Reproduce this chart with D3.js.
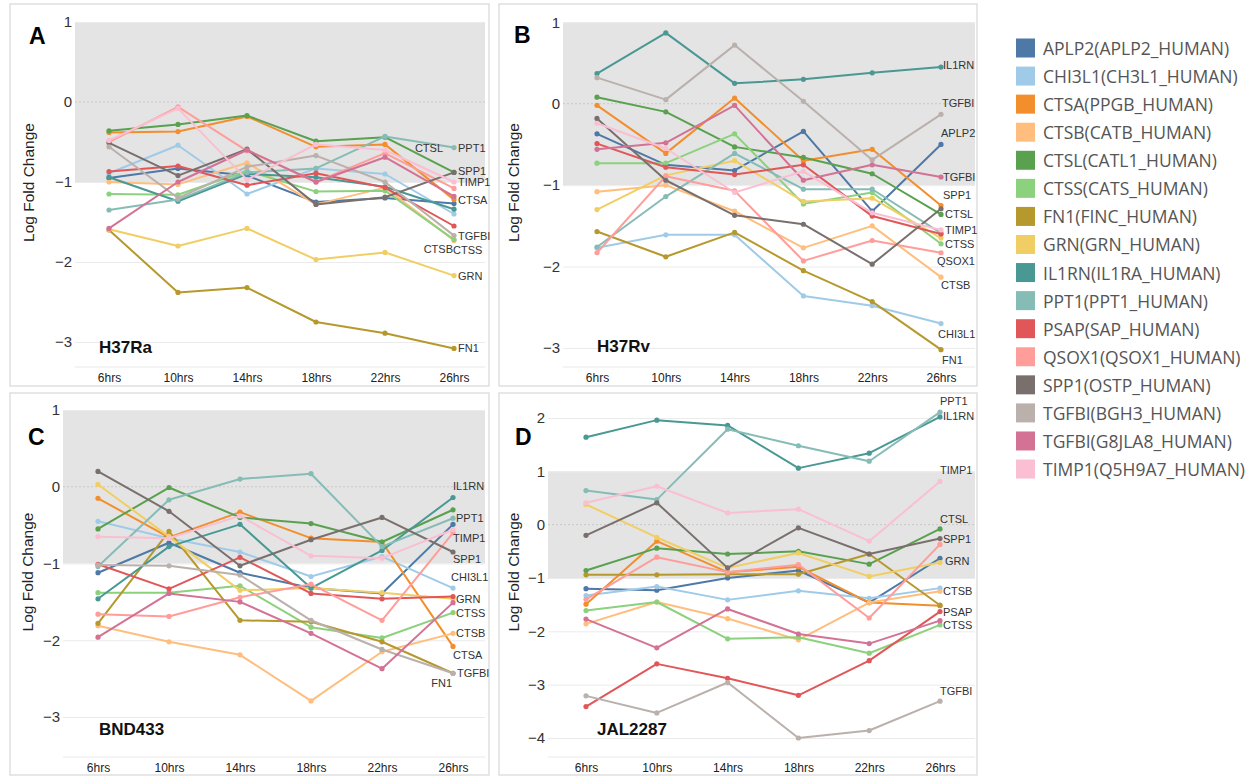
<!DOCTYPE html>
<html>
<head>
<meta charset="utf-8">
<script src="https://cdn.jsdelivr.net/npm/d3@7"></script>
<style>
  body { margin: 0; background: #fff; }
  text { font-family: "Liberation Sans", Arial, sans-serif; }
</style>
</head>
<body>
<svg id="chart" width="1253" height="776"></svg>
<script>
// ---- data ----
const hours = ["6hrs", "10hrs", "14hrs", "18hrs", "22hrs", "26hrs"];
const strains = ["H37Ra", "H37Rv", "BND433", "JAL2287"];
const panelLetters = ["A", "B", "C", "D"];
const proteins = ["APLP2(APLP2_HUMAN)", "CHI3L1(CH3L1_HUMAN)", "CTSA(PPGB_HUMAN)", "CTSB(CATB_HUMAN)",
  "CTSL(CATL1_HUMAN)", "CTSS(CATS_HUMAN)", "FN1(FINC_HUMAN)", "GRN(GRN_HUMAN)", "IL1RN(IL1RA_HUMAN)",
  "PPT1(PPT1_HUMAN)", "PSAP(SAP_HUMAN)", "QSOX1(QSOX1_HUMAN)", "SPP1(OSTP_HUMAN)", "TGFBI(BGH3_HUMAN)",
  "TGFBI(G8JLA8_HUMAN)", "TIMP1(Q5H9A7_HUMAN)"];
const geneNames = ["APLP2", "CHI3L1", "CTSA", "CTSB", "CTSL", "CTSS", "FN1", "GRN", "IL1RN",
  "PPT1", "PSAP", "QSOX1", "SPP1", "TGFBI", "TGFBI", "TIMP1"];

// log fold change, rows in legend order, columns = hours
const valuesH37Ra = [
  [-0.95, -0.83, -0.92, -1.25, -1.20, -1.27],
  [-0.89, -0.54, -1.15, -0.83, -0.90, -1.40],
  [-0.38, -0.37, -0.18, -0.56, -0.53, -1.22],
  [-1.00, -1.03, -0.76, -1.28, -1.07, -1.73],
  [-0.36, -0.28, -0.17, -0.49, -0.44, -0.88],
  [-1.15, -1.16, -0.86, -1.12, -1.11, -1.72],
  [-1.60, -2.38, -2.32, -2.75, -2.89, -3.08],
  [-1.59, -1.80, -1.58, -1.97, -1.88, -2.17],
  [-0.94, -1.24, -0.90, -0.94, -1.06, -1.34],
  [-1.35, -1.22, -0.88, -0.83, -0.43, -0.57],
  [-0.87, -0.80, -1.04, -0.89, -1.07, -1.55],
  [-0.50, -0.06, -0.61, -1.00, -0.64, -1.08],
  [-0.51, -0.92, -0.59, -1.28, -1.19, -0.88],
  [-0.56, -1.20, -0.81, -0.67, -1.00, -1.67],
  [-1.58, -1.00, -0.60, -1.00, -0.69, -1.18],
  [-0.48, -0.08, -0.97, -0.53, -0.60, -1.00]
];
const valuesH37Rv = [
  [-0.37, -0.75, -0.82, -0.34, -1.32, -0.50],
  [-1.77, -1.61, -1.61, -2.36, -2.48, -2.70],
  [-0.02, -0.61, 0.07, -0.70, -0.56, -1.25],
  [-1.08, -1.00, -1.32, -1.77, -1.50, -2.13],
  [0.08, -0.10, -0.53, -0.66, -0.86, -1.36],
  [-0.73, -0.73, -0.37, -1.23, -1.09, -1.72],
  [-1.57, -1.88, -1.58, -2.05, -2.43, -3.02],
  [-1.30, -0.88, -0.70, -1.20, -1.16, -1.65],
  [0.37, 0.87, 0.25, 0.30, 0.38, 0.45],
  [-1.76, -1.14, -0.61, -1.05, -1.05, -1.59],
  [-0.49, -0.78, -0.87, -0.75, -1.38, -1.60],
  [-1.83, -0.89, -1.07, -1.93, -1.68, -1.83],
  [-0.18, -0.94, -1.37, -1.48, -1.97, -1.29],
  [0.32, 0.05, 0.72, 0.03, -0.69, -0.13],
  [-0.56, -0.48, -0.02, -0.94, -0.75, -0.90],
  [-0.24, -0.55, -1.09, -0.83, -1.34, -1.55]
];
const valuesBND433 = [
  [-1.12, -0.73, -1.12, -1.32, -1.39, -0.49],
  [-0.45, -0.67, -0.85, -1.17, -0.91, -1.32],
  [-0.15, -0.66, -0.33, -0.67, -0.72, -2.08],
  [-1.81, -2.02, -2.19, -2.79, -2.15, -1.91],
  [-0.55, -0.01, -0.40, -0.48, -0.72, -0.30],
  [-1.38, -1.38, -1.29, -1.83, -1.97, -1.64],
  [-1.78, -0.58, -1.74, -1.76, -2.02, -2.43],
  [0.03, -0.65, -1.35, -1.32, -1.38, -1.46],
  [-1.46, -0.78, -0.49, -1.32, -0.83, -0.14],
  [-1.04, -0.17, 0.10, 0.17, -0.78, -0.41],
  [-1.01, -1.33, -0.92, -1.39, -1.46, -1.43],
  [-1.66, -1.69, -1.44, -1.27, -1.74, -0.60],
  [0.20, -0.32, -1.03, -0.69, -0.40, -0.85],
  [-1.02, -1.03, -1.15, -1.74, -2.12, -2.43],
  [-1.96, -1.39, -1.50, -1.91, -2.37, -1.51],
  [-0.65, -0.67, -0.38, -0.90, -0.93, -0.56]
];
const valuesJAL2287 = [
  [-1.20, -1.23, -1.00, -0.86, -1.46, -0.63],
  [-1.33, -1.16, -1.41, -1.24, -1.38, -1.19],
  [-1.49, -0.31, -0.89, -0.79, -1.46, -1.52],
  [-1.86, -1.45, -1.76, -2.16, -1.46, -1.25],
  [-0.86, -0.44, -0.55, -0.50, -0.74, -0.08],
  [-1.61, -1.45, -2.14, -2.11, -2.41, -1.88],
  [-0.94, -0.94, -0.93, -0.93, -0.55, -1.51],
  [0.38, -0.24, -0.81, -0.53, -0.97, -0.71],
  [1.64, 1.96, 1.86, 1.06, 1.34, 2.02],
  [0.64, 0.47, 1.79, 1.48, 1.19, 2.11],
  [-3.41, -2.61, -2.88, -3.20, -2.55, -1.63],
  [-1.40, -0.61, -0.89, -0.75, -1.75, -0.37],
  [-0.20, 0.41, -0.81, -0.06, -0.55, -0.26],
  [-3.21, -3.53, -2.96, -4.00, -3.86, -3.31],
  [-1.77, -2.31, -1.58, -2.05, -2.23, -1.80],
  [0.41, 0.72, 0.22, 0.29, -0.31, 0.81]
];
const panelValues = [valuesH37Ra, valuesH37Rv, valuesBND433, valuesJAL2287];
const panelTicks = [[-3, -2, -1, 0, 1], [-3, -2, -1, 0, 1], [-3, -2, -1, 0, 1], [-4, -3, -2, -1, 0, 1, 2]];
// which series get an end label in each panel
const labelledA = [9, 4, 12, 15, 2, 13, 5, 3, 7, 6];
const labelledB = [8, 13, 0, 14, 12, 4, 15, 5, 11, 3, 1, 6];
const labelledC = [8, 9, 15, 12, 1, 7, 5, 3, 2, 13, 6];
const labelledD = [9, 8, 15, 4, 12, 7, 3, 10, 5, 13];
const panelLabelled = [labelledA, labelledB, labelledC, labelledD];

// ---- style / layout ----
const palette = ["#4e79a7", "#a0cbe8", "#f28e2b", "#ffbe7d", "#59a14f", "#8cd17d", "#b6992d", "#f1ce63",
  "#499894", "#86bcb6", "#e15759", "#ff9d9a", "#79706e", "#bab0ac", "#d37295", "#fabfd2"];

// box, plot area, y calibration (two values and their pixels)
const panels = [
  { box: [10, 4, 489, 386], plotL: 75, plotR: 485, x0: 109, x1: 454, bottom: 367,
    yA: 1, pA: 22, yB: -3, pB: 342, letter: [29, 44], strain: [99, 353], title: 28 },
  { box: [499, 4, 977, 386], plotL: 563, plotR: 975, x0: 597, x1: 941, bottom: 367,
    yA: 1, pA: 22.3, yB: -3, pB: 348, letter: [514, 43], strain: [597, 352], title: 513 },
  { box: [10, 393, 489, 775], plotL: 63, plotR: 485, x0: 98, x1: 453, bottom: 757,
    yA: 1, pA: 410, yB: -3, pB: 717, letter: [28, 445], strain: [99, 735], title: 27 },
  { box: [499, 393, 977, 775], plotL: 548, plotR: 975, x0: 586, x1: 940, bottom: 757,
    yA: 2, pA: 418, yB: -4, pB: 738, letter: [515, 445], strain: [597, 735], title: 513 }
];
// label nudges [dx, dy, anchor] keyed by series index
const nudges = [
  { 9: [4, 0], 4: [-11, -24, "end"], 12: [4, -1], 15: [4, 0], 2: [4, 0], 13: [4, 0], 5: [-1, 10], 3: [-1, 9, "end"], 7: [4, 0], 6: [4, 0] },
  { 8: [2, -2], 13: [1, -11], 0: [0, -11], 14: [2, 0], 12: [2, -14], 4: [4, 0], 15: [4, 0], 5: [4, 0], 11: [-4, 8], 3: [0, 8], 1: [-3, 10], 6: [1, 10] },
  { 8: [0, -11], 9: [3, 0], 15: [0, 8], 12: [0, 7], 1: [-2, -11], 7: [3, 0], 5: [3, 0], 3: [3, 0], 2: [0, 9], 13: [4, 0], 6: [-1, 10, "end"] },
  { 9: [0, -11], 8: [3, -1], 15: [0, -11], 4: [0, -10], 12: [3, 0], 7: [5, -2], 3: [3, 0], 10: [3, 0], 5: [3, 0], 13: [0, -10] }
];

const svg = d3.select("#chart");

panels.forEach((p, pi) => {
  const g = svg.append("g");
  // linear scale through the two calibration points; it extends past them
  const y = d3.scaleLinear().domain([p.yB, p.yA]).range([p.pB, p.pA]);
  const x = d3.scalePoint().domain(hours).range([p.x0, p.x1]);
  const topPx = p.box[1] + 2;

  // panel frame
  g.append("rect")
    .attr("x", p.box[0]).attr("y", p.box[1])
    .attr("width", p.box[2] - p.box[0]).attr("height", p.box[3] - p.box[1])
    .attr("fill", "#fff").attr("stroke", "#d8d8d8").attr("stroke-width", 1.2);

  // shaded band -1..1
  g.append("rect")
    .attr("x", p.plotL).attr("y", y(1))
    .attr("width", p.plotR - p.plotL).attr("height", y(-1) - y(1))
    .attr("fill", "#e4e4e4");

  // grid lines
  g.append("g")
    .attr("transform", "translate(" + p.plotL + ",0)")
    .call(d3.axisLeft(y).tickValues(panelTicks[pi].filter(t => t !== 0))
      .tickSize(-(p.plotR - p.plotL)).tickFormat(""))
    .call(a => a.select(".domain").remove())
    .selectAll(".tick line").attr("stroke", "#ebebeb");
  g.append("line")
    .attr("x1", p.plotL).attr("x2", p.plotR).attr("y1", y(0)).attr("y2", y(0))
    .attr("stroke", "#c8c8c8").attr("stroke-dasharray", "2,2");
  g.append("line")
    .attr("x1", p.plotL).attr("x2", p.plotR).attr("y1", p.bottom).attr("y2", p.bottom)
    .attr("stroke", "#e8e8e8");

  // y axis
  g.append("g")
    .attr("transform", "translate(" + p.plotL + ",0)")
    .call(d3.axisLeft(y).tickValues(panelTicks[pi]).tickSize(0).tickPadding(3).tickFormat(d3.format("d")))
    .call(a => a.select(".domain").remove())
    .selectAll("text")
    .style("font-size", "15px").attr("fill", "#333")
    .style("font-family", "'Liberation Sans', Arial, sans-serif");

  // x axis
  g.append("g")
    .attr("transform", "translate(0," + p.bottom + ")")
    .call(d3.axisBottom(x).tickSize(0).tickPadding(6))
    .call(a => a.select(".domain").remove())
    .selectAll("text")
    .style("font-size", "12px").attr("fill", "#222")
    .style("font-family", "'Liberation Sans', Arial, sans-serif");

  // y title
  const midY = (topPx + p.bottom) / 2 - 4;
  g.append("text")
    .attr("transform", "translate(" + p.title + "," + midY + ") rotate(-90)")
    .attr("text-anchor", "middle").attr("dominant-baseline", "central")
    .style("font-size", "15.5px").attr("fill", "#222")
    .text("Log Fold Change");

  // lines
  const line = d3.line().x((d, i) => x(hours[i])).y(d => y(d));
  const vals = panelValues[pi];
  vals.forEach((row, si) => {
    g.append("path")
      .datum(row)
      .attr("d", line)
      .attr("fill", "none")
      .attr("stroke", palette[si])
      .attr("stroke-width", 2)
      .attr("stroke-linejoin", "round");
    g.selectAll(null)
      .data(row)
      .enter()
      .append("circle")
      .attr("cx", (d, i) => x(hours[i]))
      .attr("cy", d => y(d))
      .attr("r", 2.6)
      .attr("fill", palette[si]);
  });

  // end labels
  panelLabelled[pi].forEach(si => {
    const n = nudges[pi][si] || [4, 0];
    g.append("text")
      .attr("x", x(hours[hours.length - 1]) + n[0])
      .attr("y", y(vals[si][hours.length - 1]) + n[1])
      .attr("text-anchor", n[2] || "start")
      .attr("dominant-baseline", "central")
      .style("font-size", "11px").attr("fill", "#333")
      .text(geneNames[si]);
  });

  // panel letter and strain
  g.append("text")
    .attr("x", p.letter[0]).attr("y", p.letter[1])
    .style("font-size", "23px").style("font-weight", "bold").attr("fill", "#000")
    .text(panelLetters[pi]);
  g.append("text")
    .attr("x", p.strain[0]).attr("y", p.strain[1])
    .style("font-size", "17px").style("font-weight", "bold").attr("fill", "#111")
    .text(strains[pi]);
});

// legend
const legend = svg.append("g");
proteins.forEach((name, i) => {
  const cy = 48 + i * 28.07;
  legend.append("rect")
    .attr("x", 1016).attr("y", cy - 9.5)
    .attr("width", 19).attr("height", 19)
    .attr("fill", palette[i]);
  legend.append("text")
    .attr("x", 1043).attr("y", cy)
    .attr("dominant-baseline", "central")
    .style("font-family", "'Open Sans', 'Noto Sans', sans-serif")
    .style("font-size", "17.5px").attr("fill", "#555")
    .text(name);
});
</script>
</body>
</html>
